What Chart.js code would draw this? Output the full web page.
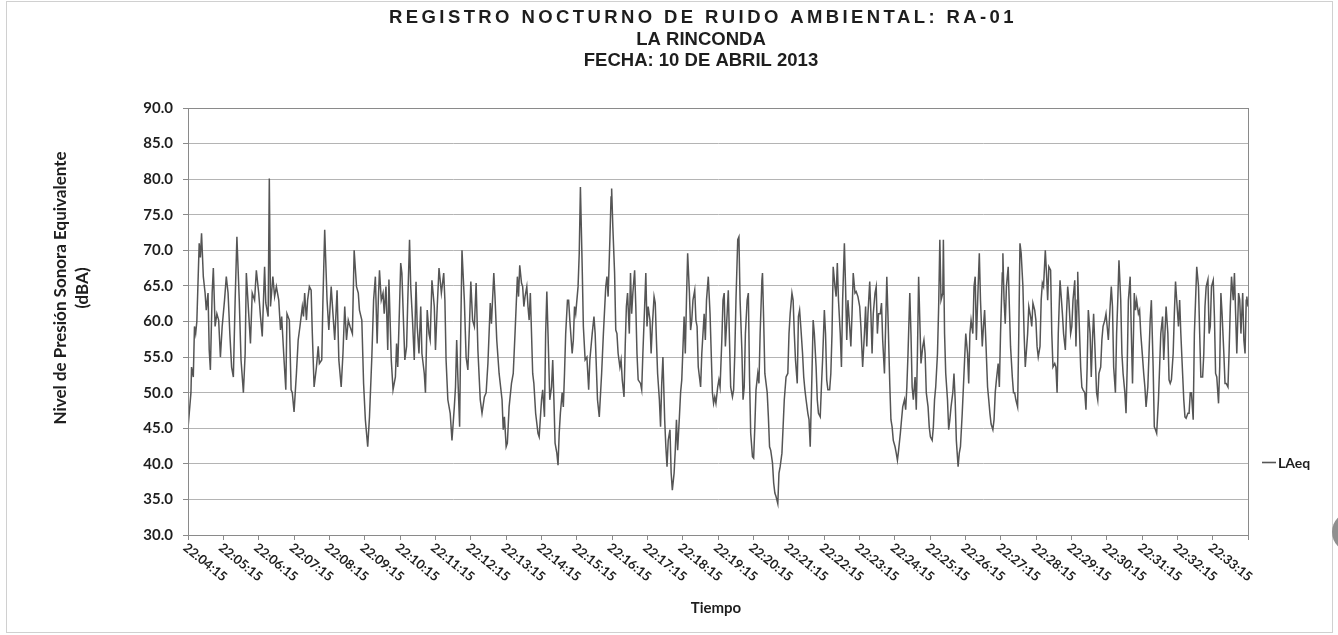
<!DOCTYPE html>
<html><head><meta charset="utf-8">
<script src="https://cdn.jsdelivr.net/npm/chart.js@4.4.1/dist/chart.umd.min.js"></script>
<style>html,body{margin:0;padding:0;background:#fff;}canvas{display:block;}</style>
</head><body>
<canvas id="c" width="1338" height="635"></canvas>
<script>
// ---------- DATA ----------
const titleLines = ['REGISTRO NOCTURNO DE RUIDO AMBIENTAL: RA-01', 'LA RINCONDA', 'FECHA: 10 DE ABRIL 2013'];
const seriesName = 'LAeq';
const yAxisTitle = ['Nivel de Presión Sonora Equivalente', '(dBA)'];
const xAxisTitle = 'Tiempo';
const tickLabels = ['22:04:15','22:05:15','22:06:15','22:07:15','22:08:15','22:09:15','22:10:15','22:11:15','22:12:15','22:13:15',
  '22:14:15','22:15:15','22:16:15','22:17:15','22:18:15','22:19:15','22:20:15','22:21:15','22:22:15','22:23:15',
  '22:24:15','22:25:15','22:26:15','22:27:15','22:28:15','22:29:15','22:30:15','22:31:15','22:32:15','22:33:15'];
const tickStepSeconds = 60;
const lastSecond = 1799;
const yMin = 30, yMax = 90, yStep = 5;

// seconds elapsed since 22:04:15
const timeSec = [
0,5,6,9,11,13,15,19,21,23,26,29,31,34,36,38,41,43,46,49,52,55,58,62,65,68,71,74,77,80,83,87,90,94,97,99,103,106,109,113,116,120,123,126,130,132,136,138,140,144,147,150,154,157,159,163,166,168,172,175,
177,180,184,187,190,194,196,198,201,203,206,209,211,214,218,221,223,227,229,232,236,239,243,246,249,253,256,260,263,266,269,272,275,279,282,286,289,291,295,298,301,305,308,312,315,318,321,323,325,328,331,333,336,339,341,345,348,
352,354,356,359,361,363,366,368,371,373,376,378,381,384,387,389,392,395,397,401,403,406,409,411,414,418,420,423,426,428,430,434,436,438,441,445,448,452,454,456,458,461,463,465,469,472,475,478,480,483,486,489,492,496,499,503,506,509,513,515,519,521,524,528,
533,535,537,540,542,545,549,552,555,559,561,563,566,568,570,572,575,577,579,581,585,587,590,594,596,600,602,605,607,609,611,614,617,619,621,623,626,628,630,632,635,637,639,641,644,646,648,652,654,656,658,662,664,666,669,671,674,677,680,682,686,689,691,695,698,702,705,
709,711,713,716,718,719,721,724,726,728,730,733,735,737,740,742,744,746,749,751,753,755,758,760,762,764,768,770,772,775,777,779,781,784,786,788,791,793,795,797,800,802,804,806,809,811,813,815,818,820,822,825,827,829,831,834,836,838,842,844,846,848,851,853,855,857,860,862,864,866,870,872,876,878,880,883,886,
890,892,894,896,899,901,903,906,908,910,912,915,917,919,921,924,926,928,930,933,935,937,940,942,944,946,949,951,953,955,958,960,962,964,967,969,971,974,975,977,979,983,985,987,989,992,994,996,998,1001,1003,1005,1008,1010,1012,1015,1018,1020,1022,1025,1027,1029,1031,1034,1036,1038,1040,1043,1045,1047,1049,1052,1054,1056,1059,1061,1063,
1066,1068,1070,1073,1075,1077,1080,1082,1084,1086,1089,1091,1093,1095,1098,1100,1102,1104,1107,1109,1111,1114,1116,1118,1120,1123,1125,1127,1129,1132,1134,1137,1140,1142,1145,1148,1150,1152,1154,1157,1159,1161,1163,1166,1168,1170,1172,1175,1177,1179,1182,1184,1186,1188,1191,1193,1195,1197,1200,1202,1204,1206,1209,1211,1213,1216,1218,1220,1222,1225,1227,1229,1231,1234,1236,1238,1240,
1244,1247,1249,1251,1253,1256,1258,1260,1263,1265,1267,1269,1272,1274,1276,1278,1281,1282,1284,1286,1289,1291,1293,1295,1298,1300,1302,1304,1307,1309,1311,1314,1316,1318,1320,1323,1325,1327,1329,1332,1334,1336,1338,1341,1343,1345,1348,1350,1352,1354,1357,1359,1361,1363,1366,1368,1370,1372,1375,1377,1379,1382,1383,1385,1387,1389,1392,1394,1396,1399,1401,1403,1405,1408,1410,1412,1414,1417,1419,1421,
1425,1427,1430,1432,1434,1437,1439,1441,1443,1446,1448,1450,1452,1455,1457,1459,1461,1464,1466,1468,1471,1473,1475,1477,1480,1482,1484,1486,1489,1491,1493,1495,1498,1500,1502,1505,1507,1509,1510,1512,1515,1517,1519,1522,1524,1526,1528,1531,1533,1535,1537,1540,1542,1544,1546,1549,1551,1553,1556,1558,1560,1562,1565,1567,1569,1571,1574,1576,1578,1580,1583,1585,1587,1590,1592,1594,1596,1599,1601,1603,
1606,1608,1610,1613,1615,1617,1620,1622,1624,1626,1629,1631,1633,1635,1638,1640,1642,1644,1647,1649,1651,1654,1656,1658,1660,1663,1665,1667,1669,1672,1674,1676,1678,1681,1683,1685,1688,1690,1692,1694,1697,1699,1701,1703,1706,1708,1710,1712,1715,1717,1719,1722,1724,1726,1728,1731,1733,1735,1737,1740,1742,1744,1746,1749,1751,1753,1755,1758,1760,1762,1765,1767,1769,1771,1774,1776,1778,1780,1783,1785,1787,1790,1792,1794,1796,1797,1799
];
// LAeq (dBA)
const laeq = [
45,50,53.6,52.2,59.3,58.3,60,71,69,72.4,66.3,64,61.6,64,56,53.2,64,67.5,59.3,61.1,60.2,55,59.3,63,66.3,64,58.3,53.6,52.2,63,71.9,63,54.6,50,55.5,66.8,61.1,56.9,64,63,67.2,64,60.7,57.9,67.7,62.6,60.7,80.1,62.1,66.3,63.5,64.9,63,58.8,60.7,54.6,50.4,61.1,60.2,50.4,
50,47.3,52.7,57.4,59.3,62.1,60.7,64,60.2,63,64.9,64.4,58.3,50.8,53.6,56.5,54.1,54.6,63,72.9,63,58.8,64.9,61.1,57.4,64.4,54.6,50.8,55.5,62.1,57.4,60.2,59.3,58.3,70,64.9,64,61.6,60.2,51.3,46.2,42.4,46.6,55,63,66.3,56.9,63,67.2,63,64,61.1,64.9,56,65.9,54.6,50.4,
52.2,56.9,53.6,62.1,68.2,66.8,59.3,54.6,56.5,63,71.5,64.9,60.2,54.6,65.6,59.3,55.5,62.1,55.5,52.7,50,61.6,58.3,57.4,65.8,62.1,56,62.1,67.5,65.8,64,66.8,63,54.6,49,47.1,43.3,48,50.8,57.4,52.2,45.2,59.3,70,63,55,53.2,60.2,65.6,60.2,59.3,65.4,56,49,47.1,49.4,50,54.1,62.6,59.7,66.8,63.5,57.4,52.7,
49,44.8,46.6,42.4,42.9,48,51.3,52.7,58.3,66.3,63.5,67.9,65.4,64.9,62.1,63.5,64.9,62.1,60.2,64,52.7,51.3,47.1,44.3,43.8,49,50.4,46.6,58.3,64.2,58.3,49,50.8,54.6,49,42.9,41.5,39.8,44.3,47.1,50,48,52.7,58.3,63,63,60.2,55.5,57.4,62.1,61.1,64.9,69.6,78.9,67.7,59.3,54.6,55,50.4,54.6,58.3,60.7,58.3,49,46.6,52.7,58.3,
64.9,66.3,63.5,71.5,77.5,78.7,73.3,66.8,58.8,58.3,55.5,53.6,54.6,51.8,49.4,56.5,62.1,64,58.3,66.8,61.1,64,67.2,62.1,55.5,51.8,51.3,50.4,55.5,62.1,66.8,59.3,62.1,60.2,55.5,59.3,63.5,62.6,57.4,52.7,49,45.2,51.3,55,46.2,42.4,39.6,43.3,44.8,38.7,36.3,38.7,41.9,46.2,41.9,46.6,50,51.8,60.7,55.5,63,69.6,64,58.8,60.2,63,64.4,60.2,59.3,53.6,50.8,55.5,61.1,57.4,63,66.3,61.1,
50,48.5,49.4,48.5,50.8,51.8,50.8,57.4,63,64,56.5,61.1,64.4,57.4,50.8,49.4,50.4,55.5,63,71.5,71.9,63,56,49,50.8,58.3,63,64,52.2,44.3,41,40.8,45.2,50.4,52.7,51.3,58.3,65.8,66.8,60.2,52.7,50,46.6,42.4,41.9,40.1,37.3,35.9,35.4,34.4,38.7,39.6,41.5,45.2,49,52.2,52.7,58.3,61.1,64,63,58.3,54.6,51.3,60.7,61.6,59.3,55.5,52.2,50.4,49,47.1,46.2,42.4,52.7,60.2,58.3,
53.6,49,47.1,46.6,50.8,54.6,61.6,58.3,51.8,50.4,50.4,52.7,58.3,67.7,64.9,63.5,68.2,63,58.3,53.6,63,71,64.9,57.4,63,59.3,56.5,61.1,66.8,64,64.2,63.5,62.1,59.3,53.6,58.3,62.1,56.5,61.1,65.6,61.1,55.5,61.1,64,64.9,58.3,61.1,61.1,62.6,57.4,52.7,59.3,66.3,60.7,51.3,46.2,45.2,43.3,42.4,41.5,40.5,41.9,44.3,46.2,48,49,47.6,50.8,55.5,64,58.3,50.8,49,52.2,47.6,55.5,66.3,
54.1,56.5,57.4,55.5,50,48,45.2,43.8,43.3,45.2,49,50.8,55.5,62.1,71.5,63,64,71.5,58.3,52.7,49,44.8,46.2,48,50,52.7,49,43.3,39.6,41.5,42.4,47.1,50.8,54.6,58.3,55.5,51.3,58.3,60.2,58.3,64.9,66.3,57.4,64.9,69.6,63,56.5,59.3,61.6,57.4,50.8,49,47.1,45.6,44.8,46.2,50,51.8,54.1,50.8,58.3,66.8,69.6,63,59.7,64.9,67.7,62.1,56.5,52.2,50,50,49,48,58.3,71,69.6,64.9,58.3,53.6,
58.3,62.1,60.7,59.3,62.6,61.6,60.2,56.5,55,56.5,63,65.4,64.9,70,66.8,63,67.7,67.2,58.3,53.6,54.1,53.6,50,58.3,65.8,63.5,61.1,58.3,56,61.1,64.9,63,58.3,59.3,63,65.8,56.5,63,67,61.1,53.6,50.8,50.4,50,47.6,53.6,61.6,58.3,52.2,57.4,61.1,54.6,50,49,52.7,53.6,57.4,59.3,60.2,61.1,59.3,57.4,62.1,64.9,62.1,53.6,50,58.3,63,68.6,63,55.5,52.7,50,47.1,53.6,63,66.3,58.3,51.3,
64,61.6,63,61.1,61.6,58.3,55,52.7,50.8,48,50.8,55.5,60.2,63,53.6,45.2,44.8,44.3,49,53.6,58.3,60.7,54.6,58.3,62.1,58.3,51.8,51.3,51.8,55.5,61.1,65.6,63,59.3,63,58.3,52.7,49,46.6,46.4,47.1,47.1,50,50,46.2,58.3,63,67.7,64.9,58.3,52.2,52.2,55.5,62.1,64.9,65.9,58.3,59.3,64.9,65.8,60.7,52.7,52.2,48.5,53.6,64,61.1,55.5,51.3,51.3,50.8,56,62.1,66.3,63,66.8,61.1,55.5,64,63,58.3,64,57.4,55.5,63,63.5,62.1
];

// ---------- CHART ----------
const TXT = '#1e1e1e';
const decor = {
  id: 'decor',
  beforeDraw(chart) {
    const ctx = chart.ctx;
    ctx.save();
    ctx.fillStyle = '#ffffff';
    ctx.fillRect(0, 0, chart.width, chart.height);
    ctx.strokeStyle = '#d0d0d0';
    ctx.lineWidth = 1;
    ctx.strokeRect(6.5, 1.5, 1326, 631);
    ctx.fillStyle = '#8f8f8f';
    ctx.beginPath(); ctx.arc(1352, 532, 20, 0, Math.PI * 2); ctx.fill();
    ctx.restore();
  },
  afterDraw(chart) {
    const ctx = chart.ctx, a = chart.chartArea, xs = chart.scales.x;
    ctx.save();
    // plot frame
    ctx.strokeStyle = '#8a8a8a'; ctx.lineWidth = 1;
    ctx.strokeRect(Math.round(a.left) + 0.5, Math.round(a.top) + 0.5, Math.round(a.right - a.left), Math.round(a.bottom - a.top));
    // title
    ctx.fillStyle = TXT;
    ctx.textAlign = 'center'; ctx.textBaseline = 'middle';
    ctx.font = 'bold 18.5px "Liberation Sans", Arial, sans-serif';
    titleLines.forEach((t, i) => {
      ctx.letterSpacing = i === 0 ? '3.4px' : '0px';
      ctx.fillText(t, i === 0 ? 703 : 701, 18 + i * 21.5);
    });
    ctx.letterSpacing = '0px';
    // y title
    ctx.font = 'bold 17px Lato, sans-serif';
    ctx.save(); ctx.translate(61, 288); ctx.rotate(-Math.PI / 2);
    ctx.fillText(yAxisTitle[0], 0, 0); ctx.fillText(yAxisTitle[1], 0, 22);
    ctx.restore();
    // x title
    ctx.font = 'bold 15px Lato, sans-serif';
    ctx.fillText(xAxisTitle, 716, 608);
    // x tick labels (rotated clockwise)
    ctx.font = 'bold 13px Lato, sans-serif';
    ctx.textAlign = 'left';
    tickLabels.forEach((lab, i) => {
      const px = xs.getPixelForValue(i * tickStepSeconds);
      ctx.save(); ctx.translate(px - 3, 546); ctx.rotate(39 * Math.PI / 180);
      ctx.fillText(lab, 0, 0); ctx.restore();
    });
    // legend
    const ds = chart.data.datasets[0];
    ctx.strokeStyle = ds.borderColor; ctx.lineWidth = 1.6;
    ctx.beginPath(); ctx.moveTo(1262, 462.5); ctx.lineTo(1276, 462.5); ctx.stroke();
    ctx.font = 'bold 14px Lato, sans-serif'; ctx.textBaseline = 'middle';
    ctx.fillText(ds.label, 1278, 463);
    ctx.restore();
  }
};

new Chart(document.getElementById('c'), {
  type: 'line',
  data: {
    datasets: [{
      label: seriesName,
      data: laeq.map((v, i) => ({ x: timeSec[i], y: v })),
      borderColor: '#555555',
      borderWidth: 1.5,
      pointRadius: 0,
      tension: 0,
      fill: false
    }]
  },
  options: {
    responsive: false,
    animation: false,
    devicePixelRatio: 1,
    layout: { padding: { left: 136, right: 90, top: 108, bottom: 0 } },
    plugins: { legend: { display: false }, title: { display: false }, tooltip: { enabled: false } },
    scales: {
      x: {
        type: 'linear', min: 0, max: lastSecond,
        afterFit(s) { s.height = 100; },
        ticks: { stepSize: tickStepSeconds, includeBounds: false, display: false },
        grid: { drawOnChartArea: false, drawTicks: true, tickLength: 5, color: '#8a8a8a' },
        border: { display: true, color: '#8a8a8a' }
      },
      y: {
        min: yMin, max: yMax,
        afterFit(s) { s.width = 52; },
        ticks: { stepSize: yStep, padding: 10, color: TXT, font: { family: 'Lato', weight: 'bold', size: 15 }, callback: v => Number(v).toFixed(1) },
        grid: { color: '#b4b4b4', borderDash: [2, 2], tickBorderDash: [], tickColor: '#8a8a8a', tickLength: 5, drawTicks: true },
        border: { display: true, color: '#8a8a8a' }
      }
    }
  },
  plugins: [decor]
});
</script>
</body></html>
